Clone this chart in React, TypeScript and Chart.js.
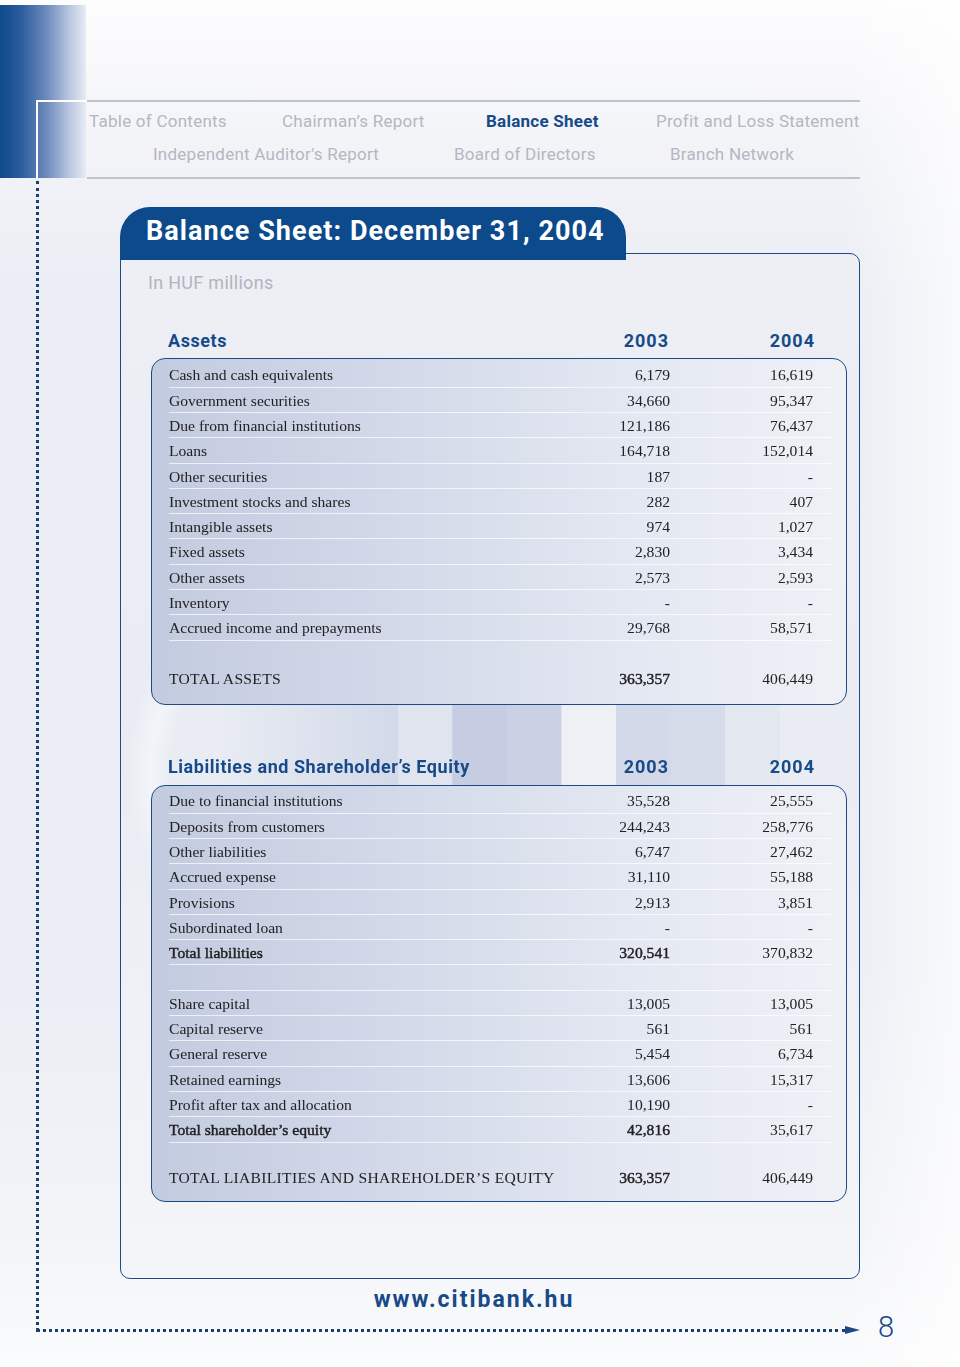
import React, { useEffect, useRef } from "react";
import { Chart, registerables } from "chart.js";

Chart.register(...registerables);

// ---------- DATA ----------
const navRow1 = ["Table of Contents", "Chairman\u2019s Report", "Balance Sheet", "Profit and Loss Statement"];
const navRow1X = [89, 282, 486, 656];
const navRow2 = ["Independent Auditor's Report", "Board of Directors", "Branch Network"];
const navRow2X = [153, 454, 670];

const yearLabels = ["2003", "2004"];

const assetLabels = [
  "Cash and cash equivalents",
  "Government securities",
  "Due from financial institutions",
  "Loans",
  "Other securities",
  "Investment stocks and shares",
  "Intangible assets",
  "Fixed assets",
  "Other assets",
  "Inventory",
  "Accrued income and prepayments",
];
const assets2003: (number | null)[] = [6179, 34660, 121186, 164718, 187, 282, 974, 2830, 2573, null, 29768];
const assets2004: (number | null)[] = [16619, 95347, 76437, 152014, null, 407, 1027, 3434, 2593, null, 58571];
const totalAssets = [363357, 406449];

const liabLabels = [
  "Due to financial institutions",
  "Deposits from customers",
  "Other liabilities",
  "Accrued expense",
  "Provisions",
  "Subordinated loan",
];
const liab2003: (number | null)[] = [35528, 244243, 6747, 31110, 2913, null];
const liab2004: (number | null)[] = [25555, 258776, 27462, 55188, 3851, null];
const totalLiab = [320541, 370832];

const equityLabels = ["Share capital", "Capital reserve", "General reserve", "Retained earnings", "Profit after tax and allocation"];
const equity2003: (number | null)[] = [13005, 561, 5454, 13606, 10190];
const equity2004: (number | null)[] = [13005, 561, 6734, 15317, null];
const totalEquity = [42816, 35617];
const totalLiabEquity = [363357, 406449];

// decorative background bands (drawn by Chart.js)
const bandSlots = ["a", "b", "c", "d", "e", "f", "g"];
const bandValues = [1, 1, 1, 1, 1, 1, 1];
const bandColors = ["#e0e4ef", "#c6cde2", "#cad1e4", "#eef0f6", "#d4d9e9", "#d6dbea", "#e3e7f0"];

// ---------- STYLE ----------
const BLUE = "#174a88";
const NAVGRAY = "#b3b7c1";
const SANS = "Roboto, 'Noto Sans', sans-serif";
const SERIF = "'Liberation Serif', 'DejaVu Serif', serif";
const ROW_H = 25.3;
const SERIF_SIZE = 15.6;

const fmt = (v: number | null) => (v === null ? "-" : v.toLocaleString("en-US"));

type RowProps = {
  label: string;
  v1: number | null | string;
  v2: number | null | string;
  top: number;
  line?: boolean;
  boldLabel?: boolean;
  bold1?: boolean;
  caps?: boolean;
};

const semiBold: React.CSSProperties = { WebkitTextStroke: "0.45px #222" } as React.CSSProperties;

function Row({ label, v1, v2, top, line = true, boldLabel, bold1, caps }: RowProps) {
  const s1 = typeof v1 === "string" ? v1 : fmt(v1);
  const s2 = typeof v2 === "string" ? v2 : fmt(v2);
  const base: React.CSSProperties = {
    position: "absolute",
    top: 0,
    lineHeight: ROW_H + "px",
    fontFamily: SERIF,
    fontSize: SERIF_SIZE,
    color: "#222",
    whiteSpace: "nowrap",
  };
  return (
    <div style={{ position: "absolute", left: 0, top, width: 696, height: ROW_H }}>
      <div style={{ ...base, left: 17, letterSpacing: caps ? 0.3 : 0, ...(boldLabel ? semiBold : {}) }}>{label}</div>
      <div style={{ ...base, right: 696 - 518, ...(bold1 ? semiBold : {}) }}>{s1}</div>
      <div style={{ ...base, right: 696 - 661 }}>{s2}</div>
      {line && (
        <div
          style={{
            position: "absolute",
            left: 17,
            top: ROW_H - 1,
            width: 664,
            height: 1,
            background: "rgba(255,255,255,0.7)",
          }}
        />
      )}
    </div>
  );
}

function Header({ text, top }: { text: string; top: number }) {
  const base: React.CSSProperties = {
    position: "absolute",
    top,
    lineHeight: "22px",
    fontFamily: SANS,
    fontWeight: 700,
    fontSize: 18,
    color: BLUE,
    whiteSpace: "nowrap",
  };
  return (
    <>
      <div style={{ ...base, left: 168, letterSpacing: 0.55 }}>{text}</div>
      <div style={{ ...base, right: 960 - 669, letterSpacing: 1 }}>{yearLabels[0]}</div>
      <div style={{ ...base, right: 960 - 815, letterSpacing: 1 }}>{yearLabels[1]}</div>
    </>
  );
}

const boxStyle = (top: number, height: number): React.CSSProperties => ({
  position: "absolute",
  left: 151,
  top,
  width: 696,
  height,
  boxSizing: "border-box",
  border: "1.5px solid #1d4c85",
  borderRadius: 14,
  background: "linear-gradient(90deg, #c3cbe0 0%, #d3d9e9 35%, #e4e8f2 70%, #eff1f7 100%)",
  overflow: "hidden",
});

export default function App() {
  const canvasRef = useRef<HTMLCanvasElement | null>(null);

  useEffect(() => {
    if (!canvasRef.current) return;
    const chart = new Chart(canvasRef.current, {
      type: "bar",
      data: {
        labels: bandSlots,
        datasets: [
          {
            data: bandValues,
            backgroundColor: bandColors,
            borderWidth: 0,
            barPercentage: 1,
            categoryPercentage: 1,
          },
        ],
      },
      options: {
        animation: false,
        responsive: false,
        maintainAspectRatio: false,
        layout: { padding: 0 },
        plugins: { legend: { display: false }, tooltip: { enabled: false } },
        scales: {
          x: { display: false, grid: { display: false } },
          y: { display: false, min: 0, max: 1, grid: { display: false } },
        },
      },
    });
    return () => chart.destroy();
  }, []);

  const assetsTop = 358;
  const liabTop = 785;
  const assetsStart = 3.35;
  const liabStart = 2.35;

  return (
    <div
      style={{
        position: "absolute",
        left: 0,
        top: 0,
        width: 960,
        height: 1367,
        overflow: "hidden",
        background:
          "linear-gradient(90deg, rgba(255,255,255,0) 0%, rgba(255,255,255,0) 88%, rgba(255,255,255,0.7) 100%), linear-gradient(180deg, #fdfdfe 0%, #f3f4f8 10%, #eaedf4 22%, #eaedf4 70%, #f3f4f8 90%, #fafbfc 100%)",
      }}
    >
      {/* top-left blue block */}
      <div
        style={{
          position: "absolute",
          left: 0,
          top: 5,
          width: 86,
          height: 173,
          background: "linear-gradient(90deg, #0e4a8d 0%, #2d5d9f 25%, #6f8cbd 55%, #b8c5df 80%, #e8ecf4 100%)",
        }}
      />
      {/* white frame */}
      <div style={{ position: "absolute", left: 36, top: 100, width: 51, height: 2, background: "#fff" }} />
      <div style={{ position: "absolute", left: 36, top: 100, width: 2, height: 78, background: "#fff" }} />
      {/* dotted vertical */}
      <div
        style={{
          position: "absolute",
          left: 35.5,
          top: 181,
          width: 0,
          height: 1150,
          borderLeft: "3px dotted #1c3f70",
        }}
      />
      {/* dotted horizontal */}
      <div
        style={{
          position: "absolute",
          left: 36,
          top: 1328.5,
          width: 810,
          height: 0,
          borderTop: "3px dotted #1c3f70",
        }}
      />
      {/* arrow head */}
      <div
        style={{
          position: "absolute",
          left: 845,
          top: 1326,
          width: 0,
          height: 0,
          borderTop: "4px solid transparent",
          borderBottom: "4px solid transparent",
          borderLeft: "15px solid #1c4a84",
        }}
      />
      <div
        style={{
          position: "absolute",
          left: 878,
          top: 1311,
          lineHeight: "32px",
          fontFamily: SANS,
          fontSize: 29,
          fontWeight: 300,
          color: BLUE,
        }}
      >
        8
      </div>

      {/* nav lines */}
      <div style={{ position: "absolute", left: 87, top: 100, width: 773, height: 2, background: "#bfc2c9" }} />
      <div style={{ position: "absolute", left: 87, top: 177, width: 773, height: 2, background: "#bfc2c9" }} />
      {navRow1.map((t, i) => (
        <div
          key={t}
          style={{
            position: "absolute",
            left: navRow1X[i],
            top: 110,
            lineHeight: "22px",
            fontFamily: SANS,
            fontSize: 17,
            letterSpacing: 0.25,
            whiteSpace: "nowrap",
            color: i === 2 ? BLUE : NAVGRAY,
            fontWeight: i === 2 ? 700 : 400,
          }}
        >
          {t}
        </div>
      ))}
      {navRow2.map((t, i) => (
        <div
          key={t}
          style={{
            position: "absolute",
            left: navRow2X[i],
            top: 143,
            lineHeight: "22px",
            fontFamily: SANS,
            fontSize: 17,
            letterSpacing: 0.25,
            whiteSpace: "nowrap",
            color: NAVGRAY,
          }}
        >
          {t}
        </div>
      ))}

      {/* main panel */}
      <div
        style={{
          position: "absolute",
          left: 120,
          top: 253,
          width: 740,
          height: 1026,
          boxSizing: "border-box",
          border: "1.5px solid #1d4c85",
          borderRadius: "0 10px 10px 10px",
          background: "linear-gradient(180deg, #edeff5 0%, #e9ecf3 50%, #f2f3f7 85%, #f4f5f8 100%)",
        }}
      />
      {/* faint circle */}
      <div
        style={{
          position: "absolute",
          left: 125,
          top: 560,
          width: 420,
          height: 420,
          borderRadius: "50%",
          background: "radial-gradient(circle, rgba(250,251,253,0.0) 55%, rgba(250,251,253,0.55) 62%, rgba(250,251,253,0) 70%)",
        }}
      />
      {/* left gradient band between boxes */}
      <div
        style={{
          position: "absolute",
          left: 214,
          top: 700,
          width: 184,
          height: 90,
          background: "linear-gradient(90deg, rgba(210,216,232,0) 0%, #d3d9e9 100%)",
        }}
      />
      {/* Chart.js decorative bands */}
      <canvas
        ref={canvasRef}
        width={382}
        height={90}
        style={{ position: "absolute", left: 398, top: 700, width: 382, height: 90 }}
      />

      {/* title tab */}
      <div
        style={{
          position: "absolute",
          left: 120,
          top: 207,
          width: 506,
          height: 53,
          background: "#0d4a8c",
          borderRadius: "30px 30px 0 0",
        }}
      />
      <div
        style={{
          position: "absolute",
          left: 146,
          top: 215,
          lineHeight: "32px",
          fontFamily: SANS,
          fontWeight: 700,
          fontSize: 27,
          letterSpacing: 1.05,
          color: "#fff",
          whiteSpace: "nowrap",
        }}
      >
        Balance Sheet: December 31, 2004
      </div>

      <div
        style={{
          position: "absolute",
          left: 148,
          top: 271,
          lineHeight: "24px",
          fontFamily: SANS,
          fontSize: 18,
          letterSpacing: 0.3,
          color: "#b0b4be",
          whiteSpace: "nowrap",
        }}
      >
        In HUF millions
      </div>

      {/* Assets */}
      <Header text="Assets" top={330} />
      <div style={boxStyle(assetsTop, 347)}>
        {assetLabels.map((l, i) => (
          <Row key={l} label={l} v1={assets2003[i]} v2={assets2004[i]} top={assetsStart + i * ROW_H} />
        ))}
        <Row label="TOTAL ASSETS" v1={totalAssets[0]} v2={totalAssets[1]} top={assetsStart + 12 * ROW_H} line={false} bold1 caps />
      </div>

      {/* Liabilities */}
      <Header text={"Liabilities and Shareholder\u2019s Equity"} top={756} />
      <div style={boxStyle(liabTop, 417)}>
        {liabLabels.map((l, i) => (
          <Row key={l} label={l} v1={liab2003[i]} v2={liab2004[i]} top={liabStart + i * ROW_H} />
        ))}
        <Row label="Total liabilities" v1={totalLiab[0]} v2={totalLiab[1]} top={liabStart + 6 * ROW_H} boldLabel bold1 />
        <Row label="" v1="" v2="" top={liabStart + 7 * ROW_H} />
        {equityLabels.map((l, i) => (
          <Row key={l} label={l} v1={equity2003[i]} v2={equity2004[i]} top={liabStart + (8 + i) * ROW_H} />
        ))}
        <Row
          label={"Total shareholder\u2019s equity"}
          v1={totalEquity[0]}
          v2={totalEquity[1]}
          top={liabStart + 13 * ROW_H}
          boldLabel
          bold1
        />
        <Row
          label={"TOTAL LIABILITIES AND SHAREHOLDER\u2019S EQUITY"}
          v1={totalLiabEquity[0]}
          v2={totalLiabEquity[1]}
          top={liabStart + 14.9 * ROW_H}
          line={false}
          bold1
          caps
        />
      </div>

      {/* footer */}
      <div
        style={{
          position: "absolute",
          left: 0,
          width: 948,
          top: 1285,
          textAlign: "center",
          lineHeight: "30px",
          fontFamily: SANS,
          fontWeight: 700,
          fontSize: 23,
          letterSpacing: 2,
          color: BLUE,
        }}
      >
        www.citibank.hu
      </div>
    </div>
  );
}
